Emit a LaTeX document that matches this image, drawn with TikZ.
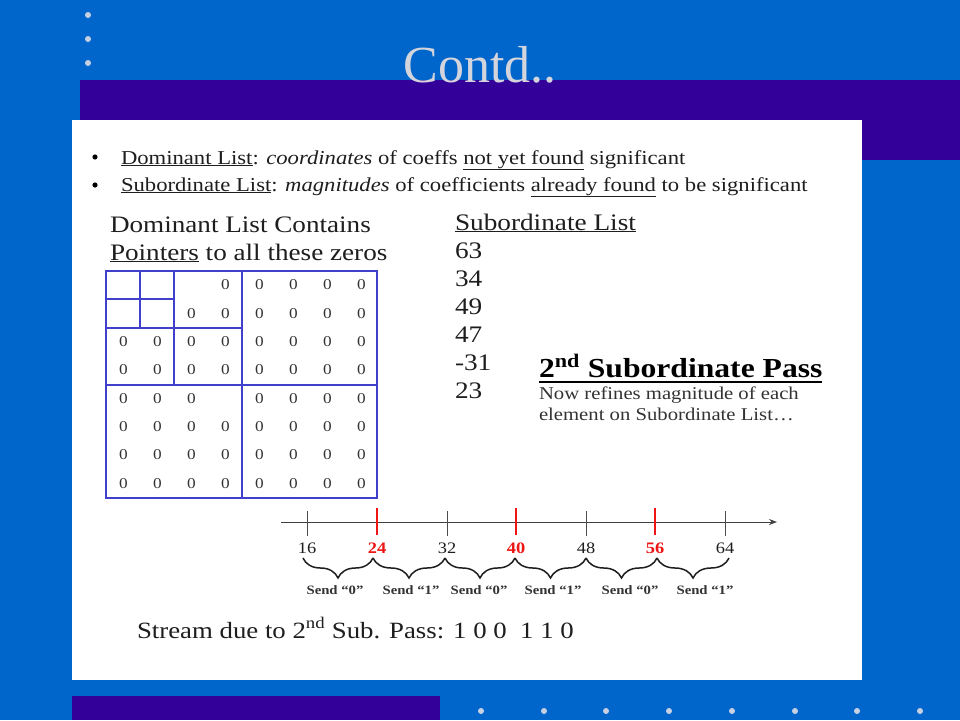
\documentclass[tikz,border=0pt]{standalone}
\usepackage{fontspec}
\setmainfont{Liberation Serif}
\newfontfamily\wf{Liberation Serif}[FakeStretch=1.15]
\usetikzlibrary{arrows.meta,decorations.pathreplacing}
\definecolor{bgblue}{HTML}{0066CC}
\definecolor{barpurple}{HTML}{330099}
\definecolor{dotgrey}{HTML}{C8D0E4}
\definecolor{titlegrey}{HTML}{D4D4DC}
\definecolor{gridblue}{HTML}{4040CC}
\definecolor{zerogrey}{HTML}{333333}
\definecolor{txt}{HTML}{1E1E1E}
\definecolor{redmark}{HTML}{EE1515}
\newcommand{\fs}[1]{\fontsize{#1}{#1}\selectfont}
\begin{document}
\begin{tikzpicture}[x=1pt,y=-1pt,
  txtnode/.style={inner sep=0pt,outer sep=0pt,text=txt,font=\wf},
  zero/.style={inner sep=0pt,text=zerogrey,font=\wf\fs{15}},
  gridline/.style={draw=gridblue,line width=1.8pt},
  tickmark/.style={draw=black!70,line width=0.9pt},
  redtick/.style={draw=redmark,line width=2pt},
  ticklab/.style={inner sep=0pt,anchor=base,font=\wf\fs{16},text=txt},
  redlab/.style={ticklab,font=\wf\bfseries\fs{16},text=redmark},
  sendlab/.style={inner sep=0pt,anchor=base,font=\wf\bfseries\fs{12.8},text=black!80},
  bracestyle/.style={draw=txt,line width=1.5pt,decorate,decoration={brace,mirror,amplitude=20pt}},
  dot/.style={fill=dotgrey},
  bul/.style={fill=black}
]
\useasboundingbox (0,0) rectangle (960,720);
% slide background
\fill[bgblue] (0,0) rectangle (960,720);
\fill[barpurple] (80,80) rectangle (960,160);
\fill[white] (72,120) rectangle (862,680);
\fill[barpurple] (72,696) rectangle (440,720);
\foreach \yy in {15,39,63} \fill[dot] (88,\yy) circle (3);
\foreach \xx in {481,544,606,669,732,795,857,920} \fill[dot] (\xx,711) circle (3);
% title
\node[anchor=base,inner sep=0pt,text=titlegrey,font=\fs{52}] (title) at (480,82) {Contd..};
% bullets
\fill[bul] (95,157) circle (2.6);
\node[txtnode,anchor=base west] (l1) at (121,164) {\fs{19.7}\underline{Dominant List}: \textit{coordinates} of coeffs \underline{not yet found} significant};
\fill[bul] (95,185) circle (2.6);
\node[txtnode,anchor=base west] (l2) at (121,191) {\fs{19.7}\underline{Subordinate List}: \textit{magnitudes} of coefficients \underline{already found} to be significant};
% dominant list heading
\node[txtnode,anchor=base west] (dh1) at (110,232) {\fs{23.6}Dominant List Contains};
\node[txtnode,anchor=base west] (dh2) at (110,260) {\fs{23.6}\underline{Pointers} to all these zeros};
% grid
\draw[gridline] (106,271) rectangle (377,498);
\draw[gridline] (242,271) -- (242,498);
\draw[gridline] (106,385) -- (377,385);
\draw[gridline] (174,271) -- (174,385);
\draw[gridline] (106,328) -- (242,328);
\draw[gridline] (140,271) -- (140,328);
\draw[gridline] (106,299) -- (174,299);
\foreach \r in {0,...,7}{
  \foreach \c in {0,...,7}{
    \pgfmathtruncatemacro\zskipit{((\r<2)&&(\c<2))||((\r==0)&&(\c==2))||((\r==4)&&(\c==3))}
    \ifnum\zskipit=0
      \node[zero] (z\r\c) at ({123.5+34*\c},{285+28.3*\r}) {0};
    \fi
  }
}
% subordinate list
\node[txtnode,anchor=base west] (sh) at (455,230) {\fs{23.7}\underline{Subordinate List}};
\node[txtnode,anchor=base west] (s1) at (455,258) {\fs{23.7}63};
\node[txtnode,anchor=base west] (s2) at (455,286) {\fs{23.7}34};
\node[txtnode,anchor=base west] (s3) at (455,314) {\fs{23.7}49};
\node[txtnode,anchor=base west] (s4) at (455,342) {\fs{23.7}47};
\node[txtnode,anchor=base west] (s5) at (455,370) {\fs{23.7}-31};
\node[txtnode,anchor=base west] (s6) at (455,398) {\fs{23.7}23};
% 2nd subordinate pass
\node[txtnode,anchor=base west,text=black] (pass) at (539,377) {\fs{27.5}\bfseries 2\textsuperscript{nd} Subordinate Pass};
\draw[black,line width=2.4pt] ([yshift=-5pt]pass.base west) -- ([yshift=-5pt]pass.base east);
\node[txtnode,anchor=base west,text=black!80] (d1) at (539,399) {\fs{18}Now refines magnitude of each};
\node[txtnode,anchor=base west,text=black!80] (d2) at (539,420) {\fs{18}element on Subordinate List\ldots};
% number line
\coordinate (axs) at (281,522);
\coordinate (axe) at (777,522);
\draw[black!75,line width=1pt,-{Stealth[length=8pt,width=6pt]}] (axs) -- (axe);
\foreach \v/\xx in {16/307,32/447,48/586,64/725}{
  \draw[tickmark] (\xx,511) -- (\xx,536);
  \node[ticklab] (t\v) at (\xx,553) {\v};
}
\foreach \v/\xx in {24/377,40/516,56/655}{
  \draw[redtick] (\xx,508) -- (\xx,535);
  \node[redlab] (t\v) at (\xx,553) {\v};
}
% braces
\foreach \v/\xx in {16/303,24/373,32/445,40/515,48/586,56/657,64/729}{
  \coordinate (c\v) at (\xx,558);
}
\draw[bracestyle] (c16) -- (c24);
\draw[bracestyle] (c24) -- (c32);
\draw[bracestyle] (c32) -- (c40);
\draw[bracestyle] (c40) -- (c48);
\draw[bracestyle] (c48) -- (c56);
\draw[bracestyle] (c56) -- (c64);
\node[sendlab] (sd1) at (335,594) {Send “0”};
\node[sendlab] (sd2) at (411,594) {Send “1”};
\node[sendlab] (sd3) at (479,594) {Send “0”};
\node[sendlab] (sd4) at (553,594) {Send “1”};
\node[sendlab] (sd5) at (630,594) {Send “0”};
\node[sendlab] (sd6) at (705,594) {Send “1”};
% stream
\node[txtnode,anchor=base west] (stream) at (137,638) {\fs{23.3}Stream due to 2\textsuperscript{nd} Sub. Pass: 1 0 0\ \ 1 1 0};
\end{tikzpicture}
\end{document}
